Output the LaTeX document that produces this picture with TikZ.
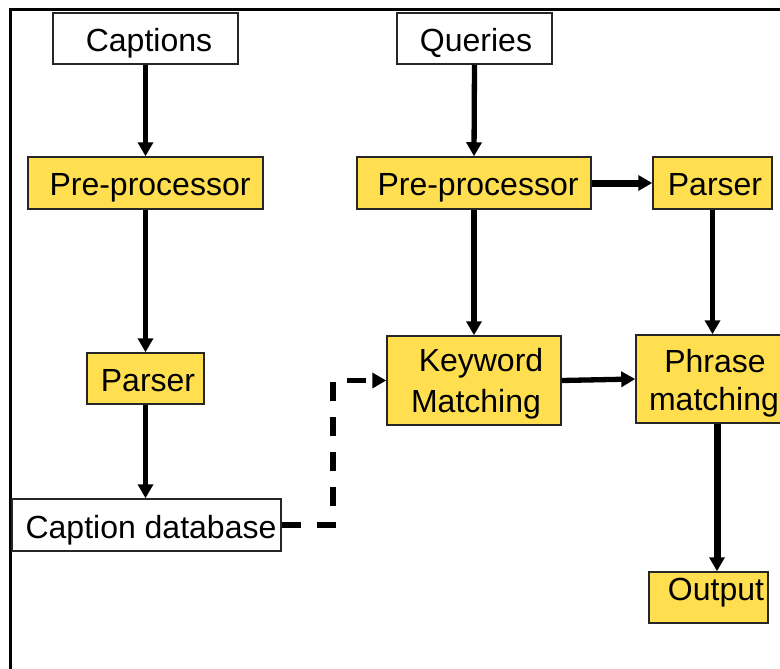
\documentclass[tikz,border=0pt]{standalone}
\usepackage{fontspec}
\setmainfont{Liberation Sans}
\usetikzlibrary{arrows.meta}
\definecolor{boxyellow}{HTML}{FFDF50}
\begin{document}
\begin{tikzpicture}[x=1pt,y=-1pt,
  box/.style={draw=black!85, line width=1.5pt, inner sep=0pt},
  ybox/.style={box, fill=boxyellow},
  wbox/.style={box, fill=white},
  lbl/.style={anchor=base, inner sep=0pt, font=\fontsize{32}{36}\selectfont},
  conn/.style={line width=5.3pt, -{Triangle[width=15pt,length=14pt]}},
  thickconn/.style={conn, line width=7pt},
  dconn/.style={conn, dash pattern=on 19pt off 16pt}
]
\useasboundingbox (0,0) rectangle (780,669);
% frame
\draw[line width=3pt] (10,680) -- (10,10) -- (790,10);
% boxes
\node[wbox, minimum width=185pt, minimum height=51pt] (cap) at (145.5,38.5) {};
\node[wbox, minimum width=155pt, minimum height=51pt] (qry) at (474.5,38.5) {};
\node[ybox, minimum width=235pt, minimum height=52pt] (pre1) at (145.5,183) {};
\node[ybox, minimum width=234pt, minimum height=52pt] (pre2) at (474,183) {};
\node[ybox, minimum width=119pt, minimum height=52pt] (par2) at (712.5,183) {};
\node[ybox, minimum width=117pt, minimum height=51pt] (par1) at (145.5,378.5) {};
\node[wbox, minimum width=269pt, minimum height=52pt] (db) at (146.5,525) {};
\node[ybox, minimum width=174pt, minimum height=89pt] (kw) at (474,380.5) {};
\node[ybox, minimum width=158pt, minimum height=88pt] (ph) at (715,379) {};
\node[ybox, minimum width=119pt, minimum height=51pt] (out) at (708.5,597.5) {};
% labels
\node[lbl] (capt) at (149,52) {Captions};
\node[lbl] (qryt) at (476,52) {Queries};
\node[lbl] (pre1t) at (150,195) {Pre-processor};
\node[lbl] (pre2t) at (478,195) {Pre-processor};
\node[lbl] (par2t) at (715,195) {Parser};
\node[lbl] (par1t) at (148,391.5) {Parser};
\node[lbl] (dbt) at (151,538) {Caption database};
\node[lbl] (kwt1) at (481,371) {Keyword};
\node[lbl] (kwt2) at (476,412) {Matching};
\node[lbl] (pht1) at (715,372.5) {Phrase};
\node[lbl] (pht2) at (714,410.5) {matching};
\node[lbl] (outt) at (716,600) {Output};
% connectors
\draw[conn] (cap.south) -- (pre1.north);
\draw[conn] (qry.south) -- (pre2.north);
\draw[conn] (pre1.south) -- (par1.north);
\draw[conn] (par1.south) -- (db.north -| par1.south);
\draw[conn] (pre2.south) -- (kw.north);
\draw[thickconn] (pre2.east) -- (par2.west);
\draw[conn] (par2.south) -- (par2.south |- ph.north);
\draw[conn] (kw.east) -- (ph.west);
\draw[thickconn] ([xshift=2pt]ph.south) -- ([xshift=2pt]ph.south |- out.north);
\coordinate (bend) at (333,525);
\draw[dconn] (db.east) -- (bend) |- (kw.west);
\end{tikzpicture}
\end{document}
